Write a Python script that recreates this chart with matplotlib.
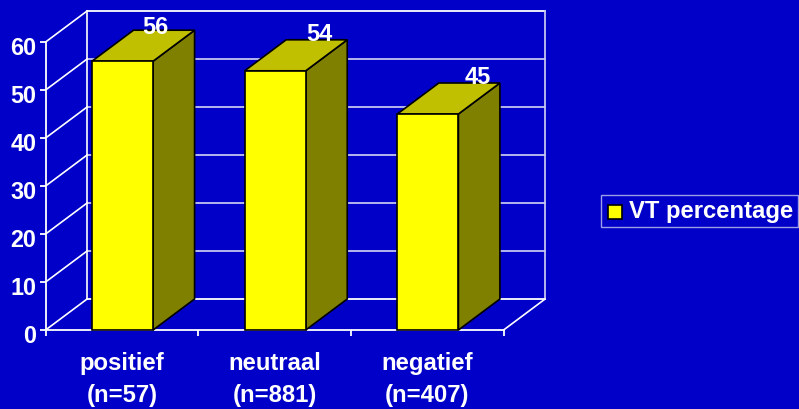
import matplotlib
matplotlib.use("Agg")
import matplotlib.pyplot as plt
from matplotlib.lines import Line2D
from matplotlib.patches import Polygon
from matplotlib.transforms import ScaledTranslation

categorieen = ["positief\n(n=57)", "neutraal\n(n=881)", "negatief\n(n=407)"]
percentages = [56, 54, 45]
y_ticks = [0, 10, 20, 30, 40, 50, 60]
serie_naam = "VT percentage"

plt.rcParams["font.family"] = ["Liberation Sans", "DejaVu Sans"]
plt.rcParams["font.weight"] = "bold"

W, H = 799, 410
BLAUW = "#0000C8"
ROOSTER = "#C4C4F0"

fig = plt.figure(figsize=(W / 100, H / 100), dpi=100, facecolor=BLAUW)
ax = fig.add_axes([45.6 / W, 1 - 331 / H, 458 / W, 288 / H], facecolor="none")
ax.set_xlim(0, 3)
ax.set_ylim(0, 60)

# diepte van de 3D-look, in data-eenheden
dx = 41.5 / (458 / 3)
dy = 31 / 4.8

# achterwand en zijwand
for t in y_ticks:
    kleur = "white" if t in (0, 60) else ROOSTER
    ax.plot([dx, 3 + dx], [t + dy, t + dy], color=kleur, lw=1.3, clip_on=False, zorder=1)
    ax.plot([0, dx], [t, t + dy], color="white", lw=1.2, clip_on=False, zorder=1)
ax.plot([dx, dx], [dy, 60 + dy], color="white", lw=1.2, clip_on=False, zorder=1)
ax.plot([3 + dx, 3 + dx], [dy, 60 + dy], color=ROOSTER, lw=1.3, clip_on=False, zorder=1)
ax.plot([3, 3 + dx], [0, dy], color="white", lw=1.2, clip_on=False, zorder=1)

# balken
breedte = 0.4
posities = [i + 0.504 for i in range(3)]
ax.bar(posities, percentages, width=breedte, color="#FFFF00",
       edgecolor="black", linewidth=1.2, zorder=4, clip_on=False)
for p, v in zip(posities, percentages):
    l, r = p - breedte / 2, p + breedte / 2
    zij = Polygon([(r, 0), (r + dx, dy), (r + dx, v + dy), (r, v)], closed=True,
                  facecolor="#808000", edgecolor="black", lw=1.2, zorder=3, clip_on=False)
    top = Polygon([(l, v), (r, v), (r + dx, v + dy), (l + dx, v + dy)], closed=True,
                  facecolor="#C0C000", edgecolor="black", lw=1.2, zorder=3, clip_on=False)
    ax.add_patch(zij)
    ax.add_patch(top)

# waardelabels (verschuiving in punten)
verschuiving = [(23.5, 20), (32, 22), (36, 22.5)]
for p, v, off in zip(posities, percentages, verschuiving):
    ax.annotate(str(v), (p, v), xytext=off, textcoords="offset points", ha="center",
                va="baseline", color="white", fontsize=17, fontweight="bold",
                zorder=6, annotation_clip=False)

# assen
for s in ("top", "right"):
    ax.spines[s].set_visible(False)
for s in ("left", "bottom"):
    ax.spines[s].set_color("white")
    ax.spines[s].set_linewidth(1.3)
    ax.spines[s].set_zorder(2)

ax.set_yticks(y_ticks)
ax.set_xticks([0, 1, 2, 3])
ax.set_xticks([0.5, 1.5, 2.5], categorieen, minor=True)
ax.set_xticklabels([])
ax.tick_params(axis="y", colors="white", labelsize=16.8, length=4, width=1.3, pad=2.5)
ax.tick_params(axis="x", which="major", colors="white", length=4, width=1.3)
ax.tick_params(axis="x", which="minor", colors="white", labelsize=17.2, length=0, pad=15)
for lab in ax.get_xticklabels(minor=True):
    lab.set_linespacing(1.5)
    lab.set_fontweight("bold")
for lab in ax.get_yticklabels():
    lab.set_fontweight("bold")
    lab.set_transform(lab.get_transform() + ScaledTranslation(0, -2.2 / 72, fig.dpi_scale_trans))

# legenda
handle = Line2D([], [], marker="s", markersize=10, linestyle="none", markerfacecolor="#FFFF00",
                markeredgecolor="black", markeredgewidth=1.2, label=serie_naam)
leg = fig.legend(handles=[handle],
                 loc="upper left", bbox_to_anchor=(601 / W, 1 - 195.5 / H), borderaxespad=0,
                 frameon=True, fancybox=False, facecolor=BLAUW, edgecolor=ROOSTER,
                 labelcolor="white", prop={"family": "Liberation Sans", "weight": "bold", "size": 17.2},
                 handlelength=0.8, handletextpad=0.18, numpoints=1, borderpad=0.2)
# vierkantje zit iets lager dan het midden van de tekst
merk = leg.legend_handles[0]
merk.set_ydata([y - 2.0 for y in merk.get_ydata()])

fig.savefig("out.png", dpi=100, facecolor=BLAUW)
